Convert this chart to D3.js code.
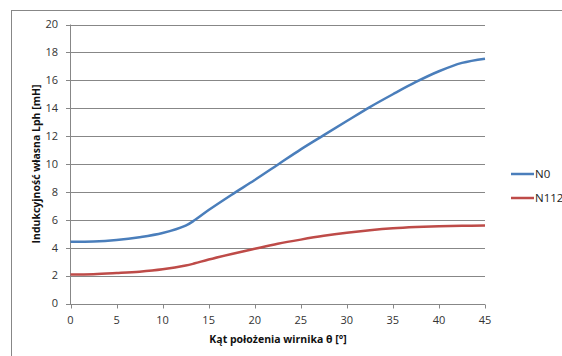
<!DOCTYPE html>
<html>
<head>
<meta charset="utf-8">
<script src="https://cdn.jsdelivr.net/npm/d3@7"></script>
<style>
  html, body { margin: 0; padding: 0; background: #fff; }
  svg { display: block; }
  text { font-family: "Open Sans", "Liberation Sans", sans-serif; }
</style>
</head>
<body>
<svg id="chart" width="562" height="356"></svg>
<script>
// Rotor angle (degrees)
const angles = [0, 2.5, 5, 7.5, 10, 12.5, 13.5, 15, 17.5, 20, 22.5, 25, 27.5, 30, 32.5, 35, 37.5, 40, 42.5, 45];
// Phase self-inductance Lph [mH] for each series
const seriesN0   = [4.42, 4.44, 4.55, 4.75, 5.05, 5.58, 5.98, 6.7, 7.8, 8.85, 9.95, 11.05, 12.07, 13.08, 14.08, 15.0, 15.88, 16.65, 17.25, 17.55];
const seriesN112 = [2.08, 2.1, 2.18, 2.28, 2.45, 2.72, 2.88, 3.15, 3.55, 3.92, 4.28, 4.58, 4.85, 5.07, 5.25, 5.39, 5.48, 5.54, 5.57, 5.59];
const seriesNames = ["N0", "N112"];
const seriesColors = ["#4A7EBB", "#BE4B48"];
const xTicks = [0, 5, 10, 15, 20, 25, 30, 35, 40, 45];
const yTicks = [0, 2, 4, 6, 8, 10, 12, 14, 16, 18, 20];
const xTitle = "Kąt położenia wirnika θ [°]";
const yTitle = "Indukcyjność własna Lph [mH]";

const svg = d3.select("#chart");
const grid = "#878787";

// chart frame
svg.append("rect")
  .attr("x", 11.5).attr("y", 10.5)
  .attr("width", 600).attr("height", 400)
  .attr("fill", "none").attr("stroke", grid).attr("stroke-width", 1);

const x = d3.scaleLinear().domain([0, 45]).range([70.5, 485]);
const y = d3.scaleLinear().domain([0, 20]).range([303.5, 24.5]);

// horizontal gridlines with left tick stubs
svg.append("g").selectAll("line").data(yTicks).join("line")
  .attr("x1", 66).attr("x2", 485)
  .attr("y1", d => Math.round(y(d)) + 0.5).attr("y2", d => Math.round(y(d)) + 0.5)
  .attr("stroke", grid).attr("stroke-width", 1);

// y axis line
svg.append("line")
  .attr("x1", 70.5).attr("x2", 70.5)
  .attr("y1", y(20)).attr("y2", Math.round(y(0)) + 0.5)
  .attr("stroke", grid);

// x axis ticks
svg.append("g").selectAll("line").data(xTicks).join("line")
  .attr("x1", d => Math.round(x(d)) + 0.5).attr("x2", d => Math.round(x(d)) + 0.5)
  .attr("y1", Math.round(y(0)) + 0.5).attr("y2", Math.round(y(0)) + 4.5)
  .attr("stroke", grid);

// y tick labels
svg.append("g").selectAll("text").data(yTicks).join("text")
  .attr("x", 58).attr("y", d => y(d))
  .attr("dy", "0.35em")
  .attr("text-anchor", "end")
  .attr("font-size", 11).attr("fill", "#333")
  .text(d => d);

// x tick labels
svg.append("g").selectAll("text").data(xTicks).join("text")
  .attr("x", d => x(d)).attr("y", 320)
  .attr("dy", "0.35em")
  .attr("text-anchor", "middle")
  .attr("font-size", 11).attr("fill", "#333")
  .text(d => d);

// axis titles
svg.append("text")
  .attr("x", 278).attr("y", 339).attr("dy", "0.35em")
  .attr("text-anchor", "middle")
  .attr("font-size", 10.5).attr("font-weight", "bold").attr("fill", "#111")
  .text(xTitle);

svg.append("text")
  .attr("transform", "translate(36,164) rotate(-90)")
  .attr("dy", "0.35em")
  .attr("text-anchor", "middle")
  .attr("font-size", 10.5).attr("font-weight", "bold").attr("fill", "#111")
  .text(yTitle);

// series lines
const line = d3.line()
  .x((d, i) => x(angles[i]))
  .y(d => y(d))
  .curve(d3.curveCatmullRom.alpha(0.5));

[seriesN0, seriesN112].forEach((vals, k) => {
  svg.append("path")
    .datum(vals)
    .attr("d", line)
    .attr("fill", "none")
    .attr("stroke", seriesColors[k])
    .attr("stroke-width", 2.5)
    .attr("stroke-linejoin", "round");
});

// legend
const legY = [174, 198];
seriesNames.forEach((name, k) => {
  svg.append("line")
    .attr("x1", 511).attr("x2", 534)
    .attr("y1", legY[k]).attr("y2", legY[k])
    .attr("stroke", seriesColors[k]).attr("stroke-width", 2.5);
  svg.append("text")
    .attr("x", 535).attr("y", legY[k]).attr("dy", "0.35em")
    .attr("font-size", 11.5).attr("fill", "#222")
    .text(name);
});
</script>
</body>
</html>
